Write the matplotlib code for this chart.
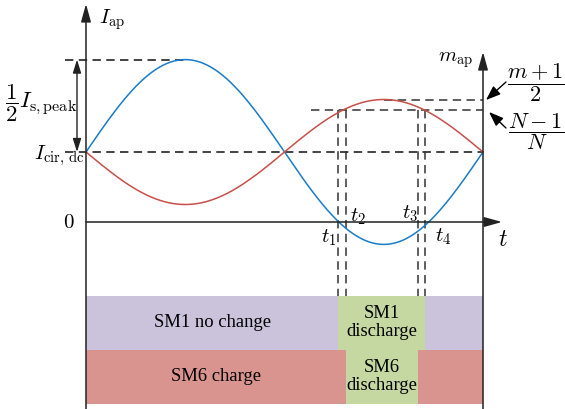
import numpy as np
import matplotlib
matplotlib.use('Agg')
import matplotlib.pyplot as plt

plt.rcParams['mathtext.fontset'] = 'cm'
plt.rcParams['font.family'] = ['Liberation Serif', 'DejaVu Serif']

# schematic values, normalised: zero line = 0, I_cir,dc = 1, one period = 1
i_cir_dc = 1.0
i_s_peak_half = 1.32
m_amp = 0.75
level_m_top = i_cir_dc + m_amp      # (m+1)/2
level_n = 1.6                       # (N-1)/N
t_marks = [0.636, 0.656, 0.836, 0.855]
t_labels = ['$t_1$', '$t_2$', '$t_3$', '$t_4$']

# switching states of SM1 / SM6 over one period
sm1_starts = [0.0, t_marks[0], t_marks[3]]
sm1_ends = [t_marks[0], t_marks[3], 1.0]
sm1_states = ['SM1 no change', 'SM1\ndischarge', '']
sm6_starts = [0.0, t_marks[1], t_marks[2]]
sm6_ends = [t_marks[1], t_marks[2], 1.0]
sm6_states = ['SM6 charge', 'SM6\ndischarge', '']

BLUE = '#1a7cc8'
RED = '#c8504a'
PURPLE = '#cbc3dc'
PINK = '#d9948f'
GREEN = '#c5d8a2'
DASH = (0, (5.5, 3.5))


def px(x, y):
    # pixel position in the 565x409 picture -> data coordinates
    return (x - 86) / 397, (222 - y) / 70


fig = plt.figure(figsize=(5.65, 4.09), dpi=100)
ax = fig.add_axes([0, 0, 1, 1])
ax.set_xlim(px(0, 0)[0], px(565, 0)[0])
ax.set_ylim(px(0, 409)[1], px(0, 0)[1])
ax.axis('off')

t = np.linspace(0, 1, 400)
i_ap = i_cir_dc + i_s_peak_half * np.sin(2 * np.pi * t)
m_ap = i_cir_dc - m_amp * np.sin(2 * np.pi * t)
ax.plot(t, i_ap, color=BLUE, lw=1.1, zorder=3)
ax.plot(t, m_ap, color=RED, lw=1.1, zorder=3)

# state bars
row1_y, row2_y = px(0, 322.5)[1], px(0, 376.5)[1]
row_h = 54 / 70
sm1_colors = [PURPLE, GREEN, PURPLE]
sm6_colors = [PINK, GREEN, PINK]
ax.barh([row1_y] * 3, np.subtract(sm1_ends, sm1_starts), left=sm1_starts,
        height=row_h, color=sm1_colors, zorder=1)
ax.barh([row2_y] * 3, np.subtract(sm6_ends, sm6_starts), left=sm6_starts,
        height=row_h, color=sm6_colors, zorder=1)
for s, e, lab in zip(sm1_starts, sm1_ends, sm1_states):
    if lab:
        ax.text((s + e) / 2, row1_y, lab, ha='center', va='center', fontsize=13.4,
                linespacing=1.05)
for s, e, lab in zip(sm6_starts, sm6_ends, sm6_states):
    if lab:
        ax.text((s + e) / 2, row2_y, lab, ha='center', va='center', fontsize=13.4,
                linespacing=1.05)

# dashed guide lines
xl = px(65, 0)[0]
ax.plot([xl, 0.25], [i_cir_dc + i_s_peak_half] * 2, color='#111', lw=1.1, ls=DASH)
ax.plot([xl, 1.0], [i_cir_dc] * 2, color='#111', lw=1.1, ls=DASH)
ax.plot([0.75, 1.0], [level_m_top] * 2, color='#333', lw=1.1, ls=DASH)
ax.plot([px(311, 0)[0], 1.0], [level_n] * 2, color='#333', lw=1.1, ls=DASH)
bar_top = row1_y + row_h / 2
for tm in t_marks:
    ax.plot([tm, tm], [level_n, bar_top], color='#333', lw=1.1, ls=DASH, zorder=2)

# axes with arrows
axis_kw = dict(arrowstyle='-|>,head_width=0.25,head_length=0.9', color='#222',
               lw=1.1, shrinkA=0, shrinkB=0, mutation_scale=12)
ybot = px(0, 409)[1]
ax.annotate('', xy=px(86, 4), xytext=(0, ybot), arrowprops=axis_kw, zorder=4)
ax.annotate('', xy=px(483, 52), xytext=(1.0, ybot), arrowprops=axis_kw, zorder=4)
ax.annotate('', xy=px(502, 222), xytext=(0, 0), arrowprops=axis_kw, zorder=4)

# 1/2 I_s,peak double arrow
ax.annotate('', xy=(px(77, 0)[0], i_cir_dc + i_s_peak_half),
            xytext=(px(77, 0)[0], i_cir_dc),
            arrowprops=dict(arrowstyle='<|-|>,head_width=0.25,head_length=0.8',
                            color='#222', lw=1.0, shrinkA=0, shrinkB=0,
                            mutation_scale=10))

# pointer arrows to the m_ap levels
ptr_kw = dict(arrowstyle='-|>,head_width=0.3,head_length=0.8', color='k',
              lw=1.0, shrinkA=0, shrinkB=0, mutation_scale=11)
ax.annotate('', xy=px(486, 100), xytext=px(506, 82), arrowprops=ptr_kw)
ax.annotate('', xy=px(489, 112), xytext=px(506, 128), arrowprops=ptr_kw)

# labels
ax.text(*px(99, 20), r'$I_{\rm ap}$', fontsize=15, ha='left', va='center')
ax.text(*px(75, 223), r'$0$', fontsize=15, ha='right', va='center')
ax.text(*px(84, 156), r'$I_{\rm cir,\,dc}$', fontsize=15, ha='right', va='center')
ax.text(*px(5, 103), r'$\dfrac{1}{2}I_{\rm s,peak}$', fontsize=16.5,
        ha='left', va='center')
ax.text(*px(456, 60), r'$m_{\rm ap}$', fontsize=15, ha='center', va='center')
ax.text(*px(536, 83), r'$\dfrac{m+1}{2}$', fontsize=16, ha='center', va='center')
ax.text(*px(536, 132), r'$\dfrac{N-1}{N}$', fontsize=16, ha='center', va='center')
ax.text(*px(503, 240), r'$t$', fontsize=17, ha='center', va='center')
label_pos = [(329, 238), (358, 217), (410, 214), (443, 237)]
for lab, (x, y) in zip(t_labels, label_pos):
    ax.text(*px(x, y), lab, fontsize=15, ha='center', va='center')

fig.savefig('out.png', dpi=100)
